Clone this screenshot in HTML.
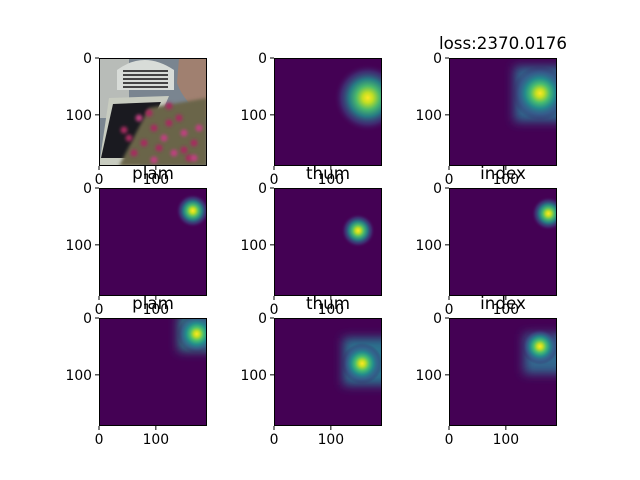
<!DOCTYPE html>
<html><head><meta charset="utf-8"><style>
body{margin:0;background:#fff}
svg{display:block;font-family:"DejaVu Sans","Liberation Sans",sans-serif}
</style></head><body>
<svg id="fig" width="640" height="480" viewBox="0 0 640 480">
<defs>
<filter id="blur4" x="-50%" y="-50%" width="200%" height="200%"><feGaussianBlur stdDeviation="5"/></filter>
<filter id="blur2" x="-50%" y="-50%" width="200%" height="200%"><feGaussianBlur stdDeviation="1.5"/></filter>
<radialGradient id="vir">
<stop offset="0" stop-color="#fde725"/>
<stop offset="0.15" stop-color="#c2df23"/>
<stop offset="0.35" stop-color="#4ac16d" stop-opacity="0.95"/>
<stop offset="0.55" stop-color="#21918c" stop-opacity="0.85"/>
<stop offset="0.78" stop-color="#3b528b" stop-opacity="0.5"/>
<stop offset="1" stop-color="#440154" stop-opacity="0"/>
</radialGradient>
</defs>
</svg>
<script>
const panelTitles=["","","loss:2370.0176","plam","thum","index","plam","thum","index"];
const blobX=[0,165,160,165,148,175,172,155,160];
const blobY=[0,70,62,40,75,45,28,80,50];
const blobR=[0,60,48,30,30,30,34,36,32];
const boxX0=[0,0,115,0,0,0,140,122,132];
const boxY0=[0,0,15,0,0,0,-5,35,28];
const boxY1=[0,0,112,0,0,0,58,118,98];
const boxLevel=["","","#2f6b8e","","","","#2a8a8c","#2c728e","#30688e"];
const ticks=[0,100];
const colX=[99,274,449],rowY=[58,188,318],S=108,EXT=190;
const svg=document.getElementById('fig');
const NS="http://www.w3.org/2000/svg";
function sx(c,v){return colX[c]+v/EXT*S}
function sy(r,v){return rowY[r]+v/EXT*S}
function mk(tag,attrs,parent){const e=document.createElementNS(NS,tag);for(const k in attrs)e.setAttribute(k,attrs[k]);(parent||svg).appendChild(e);return e;}
for(let i=0;i<9;i++){
  const r=Math.floor(i/3),c=i%3;
  const g=mk('g',{});
  
  
  const cp=mk('clipPath',{id:'cp'+i},g);mk('rect',{x:colX[c],y:rowY[r],width:S,height:S},cp);
  const inner=mk('g',{'clip-path':'url(#cp'+i+')'},g);
  if(i===0){
    const x=colX[c],y=rowY[r];
    mk('rect',{x:x,y:y,width:S,height:S,fill:'#7a8590'},inner);
    mk('rect',{x:x,y:y,width:30,height:60,fill:'#b8bcb8'},inner);
    mk('path',{d:`M${x+18} ${y+32} L${x+18} ${y+12} Q${x+45} ${y-8} ${x+75} ${y+12} L${x+75} ${y+32} Z`,fill:'#d8dcd8'},inner);
    for(let k=0;k<5;k++)mk('rect',{x:x+24,y:y+12+k*4,width:45,height:2,fill:'#444'},inner);
    mk('path',{d:`M${x+10} ${y+40} L${x+70} ${y+38} L${x+40} ${y+108} L${x} ${y+108} Z`,fill:'#c8ccc0'},inner);
    mk('path',{d:`M${x+14} ${y+46} L${x+62} ${y+44} L${x+34} ${y+100} L${x+2} ${y+100} Z`,fill:'#1a1a20'},inner);
    mk('path',{d:`M${x+80} ${y} L${x+108} ${y} L${x+108} ${y+60} Q${x+85} ${y+45} ${x+78} ${y+25} Z`,fill:'#a08070'},inner);
    mk('path',{d:`M${x+20} ${y+108} L${x+50} ${y+50} L${x+108} ${y+40} L${x+108} ${y+108} Z`,fill:'#6a6548',filter:'url(#blur2)'},inner);
    const fx=[40,55,70,85,95,60,75,90,45,100,30,50,65,80,35,55,85,70,95,25];
    const fy=[60,70,65,75,85,90,95,100,85,70,80,55,80,60,95,102,92,48,100,72];
    fx.forEach((v,k)=>mk('circle',{cx:x+v,cy:y+fy[k],r:3.5,fill:k%3?'#a82a60':'#c04080',filter:'url(#blur2)'},inner));
  } else {
    mk('rect',{x:colX[c],y:rowY[r],width:S,height:S,fill:'#440154'},inner);
    if(boxLevel[i]){
      const b=mk('rect',{x:sx(c,boxX0[i]),y:sy(r,boxY0[i]),width:S,height:sy(r,boxY1[i])-sy(r,boxY0[i]),fill:boxLevel[i],filter:'url(#blur4)'},inner);
      
      
    }
    const bl=mk('ellipse',{cx:sx(c,blobX[i]),cy:sy(r,blobY[i]),rx:blobR[i]/EXT*S,ry:blobR[i]/EXT*S,fill:'url(#vir)'},inner);
    
    
  }
  mk('rect',{x:colX[c]+0.5,y:rowY[r]+0.5,width:S-1,height:S-1,fill:'none',stroke:'#000','stroke-width':1},g);
  ticks.forEach(t=>{
    const px=sx(c,t),py=sy(r,t);
    mk('line',{x1:px,y1:rowY[r]+S,x2:px,y2:rowY[r]+S+4,stroke:'#000'},g);
    const tx=mk('text',{x:px,y:rowY[r]+S+18,'font-size':13.9,'text-anchor':'middle'},g);tx.textContent=t;
    
    
    mk('line',{x1:colX[c]-4,y1:py,x2:colX[c],y2:py,stroke:'#000'},g);
    const ty=mk('text',{x:colX[c]-7,y:py+5,'font-size':13.9,'text-anchor':'end'},g);ty.textContent=t;
    
    
  });
  if(panelTitles[i]){
    const tt=mk('text',{x:colX[c]+S/2,y:rowY[r]-9,'font-size':16.7,'text-anchor':'middle'},g);tt.textContent=panelTitles[i];
    
    
  }
}
</script>
</body></html>
